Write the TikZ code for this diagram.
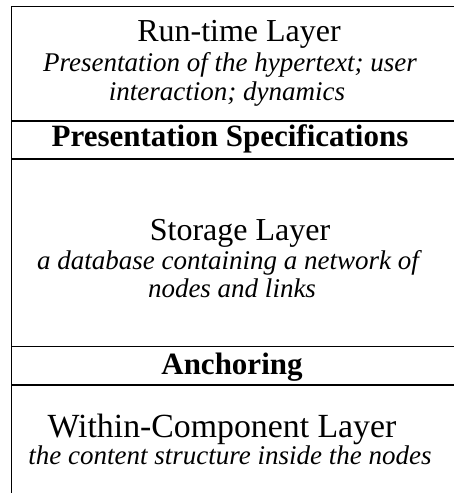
\documentclass[tikz,border=0pt]{standalone}
\usepackage{fontspec}
\setmainfont{Liberation Serif}[ItalicFont={Liberation Serif Italic}, BoldFont={Liberation Serif Bold}]
\begin{document}
\begin{tikzpicture}[x=1pt,y=1pt,
  rule/.style={line width=1.2pt, black},
  title/.style={anchor=base, inner sep=0pt, font=\fontsize{32}{36}\selectfont},
  desc/.style={anchor=base, inner sep=0pt, font=\fontsize{27}{30}\selectfont\itshape},
  bar/.style={anchor=base, inner sep=0pt, font=\fontsize{31}{36}\selectfont\bfseries}]
\useasboundingbox (0,0) rectangle (454,493);
% frame
\coordinate (tl) at (11.5,486.5);
\coordinate (tr) at (454,486.5);
\coordinate (bl) at (11.5,0);
\draw[rule] (bl) -- (tl) -- (tr);
\coordinate (l1a) at (11.5,372); \coordinate (l1b) at (454,372);
\coordinate (l2a) at (11.5,334); \coordinate (l2b) at (454,334);
\coordinate (l3a) at (11.5,146.3); \coordinate (l3b) at (454,146.3);
\coordinate (l4a) at (11.5,108); \coordinate (l4b) at (454,108);
\draw[rule] (l1a) -- (l1b);
\draw[rule] (l2a) -- (l2b);
\draw[rule] (l3a) -- (l3b);
\draw[rule] (l4a) -- (l4b);
% texts
\node[title] (rt) at (239,451) {Run-time Layer};
\node[desc] (rt1) at (230,421) {Presentation of the hypertext; user};
\node[desc] (rt2) at (227,392) {interaction; dynamics};
\node[bar] (ps) at (230,346) {Presentation Specifications};
\node[title] (st) at (240,252) {Storage Layer};
\node[desc] (st1) at (228,223) {a database containing a network of};
\node[desc] (st2) at (232,195) {nodes and links};
\node[bar] (an) at (232,118) {Anchoring};
\node[title, font=\fontsize{33.8}{36}\selectfont] (wc) at (222,55) {Within-Component Layer};
\node[desc] (wc1) at (230,28) {the content structure inside the nodes};
\end{tikzpicture}
\end{document}
